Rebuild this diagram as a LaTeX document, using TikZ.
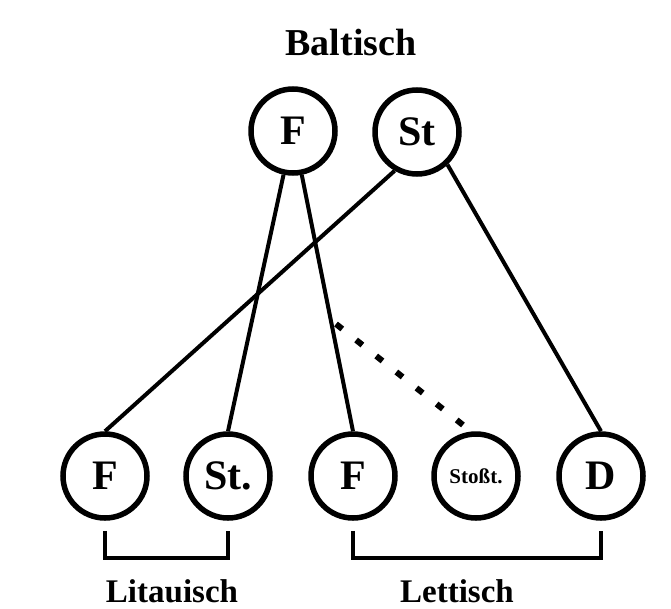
\documentclass[tikz,border=0pt]{standalone}
\usepackage{fontspec}
\setmainfont{Liberation Serif}
\begin{document}
\begin{tikzpicture}[x=1pt,y=-1pt,
  circ/.style={circle,draw,line width=5.5pt,minimum size=84pt,inner sep=0pt,font=\bfseries\fontsize{42}{42}\selectfont},
  conn/.style={line width=4pt},
  brk/.style={line width=4pt},
  lbl/.style={font=\bfseries\fontsize{33}{33}\selectfont,anchor=base,inner sep=0pt}]
\useasboundingbox (0,0) rectangle (671,608);
\node[lbl,font=\bfseries\fontsize{38}{38}\selectfont] (balt) at (351,55) {Baltisch};
\node[circ] (bF) at (293,131) {F};
\node[circ] (bSt) at (417,132) {St};
\node[circ] (lF) at (105,476) {F};
\node[circ] (lSt) at (228,476) {St.};
\node[circ] (eF) at (353,476) {F};
\node[circ,font=\bfseries\fontsize{21}{21}\selectfont] (eS) at (476,476) {Stoßt.};
\node[circ] (eD) at (601,476) {D};
\draw[conn] (bF) -- (lSt.north);
\draw[conn] (bF) -- (eF.north);
\draw[conn] (bSt.240) -- (lF.north);
\draw[conn] (bSt.313) -- (eD.north);
\coordinate (d1) at (336,324);
\coordinate (d2) at (463,425);
\draw[line width=6pt,dash pattern=on 8pt off 17.7pt] (d1) -- (d2);
\draw[brk] ([yshift=-10pt]lF.south) -- ++(0,27) -| ([yshift=-10pt]lSt.south);
\draw[brk] ([yshift=-10pt]eF.south) -- ++(0,27) -| ([yshift=-10pt]eD.south);
\node[lbl] (lit) at (172,602) {Litauisch};
\node[lbl] (let) at (457,602) {Lettisch};
\end{tikzpicture}
\end{document}
